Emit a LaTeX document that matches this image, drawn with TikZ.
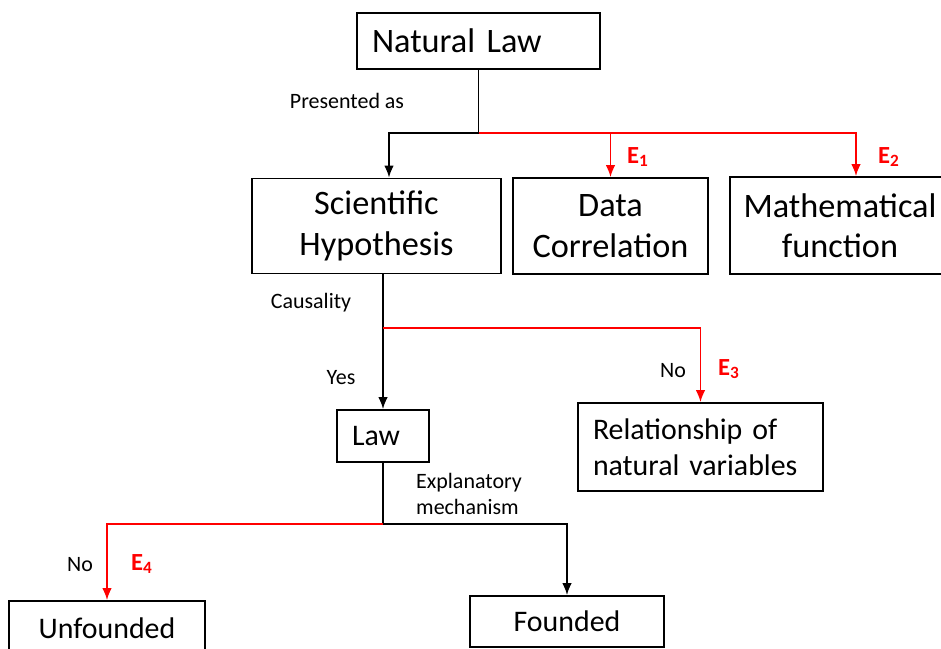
\documentclass[tikz,border=0pt]{standalone}
\usepackage{fontspec}
\setmainfont{Carlito}
\usetikzlibrary{arrows.meta}
\tikzset{>={Latex[length=2.4mm,width=1.9mm]}}
\colorlet{errred}{red}
\newcommand{\Er}[1]{\textbf{E\textsubscript{#1}}}

\begin{document}
\begin{tikzpicture}[x=0.02cm,y=-0.02cm,
  box/.style={draw,line width=1pt,inner sep=0pt,align=center},
  lbox/.style={box,align=left,inner xsep=0.3cm},
  big/.style={font=\fontsize{19.5}{23}\selectfont},
  mid/.style={font=\fontsize{17}{20.5}\selectfont},
  lbl/.style={font=\fontsize{12.5}{14.5}\selectfont},
  elbl/.style={errred,font=\fontsize{14}{16}\selectfont},
  flow/.style={line width=1pt},
  errflow/.style={errred,line width=1pt}]
  \useasboundingbox (0,0) rectangle (941,649);
  % boxes
  \node[lbox,big,text width=4.26cm,minimum height=1.12cm] (nat) at (478.5,41) {Natural Law};
  \node[box,big,minimum width=4.98cm,minimum height=1.9cm] (hyp) at (376.5,226) {Scientific\\Hypothesis};
  \node[box,big,minimum width=3.9cm,minimum height=1.92cm] (corr) at (610.5,226) {Data\\Correlation};
  \node[box,big,minimum width=4.4cm,minimum height=1.94cm] (func) at (840,225.5) {Mathematical\\function};
  \node[lbox,mid,text width=1.24cm,minimum height=1.04cm] (law) at (383,436) {Law};
  \node[lbox,mid,text width=4.3cm,minimum height=1.76cm] (rel) at (700.5,447) {Relationship of\\natural variables};
  \node[box,mid,minimum width=3.92cm,minimum height=1.08cm] (unf) at (107,628) {Unfounded};
  \node[box,mid,minimum width=3.88cm,minimum height=1.02cm] (fnd) at (567,621.5) {Founded};
  % natural law
  \coordinate (s1) at (478.5,133);
  \draw[flow] (nat) -- (s1);
  \draw[flow,->] (s1) -| ([xshift=0.25cm]hyp.north);
  \draw[errflow,->] (s1) -| ([xshift=0.32cm]func.north);
  \draw[errflow,->] (corr.north |- s1) -- (corr.north);
  \node[lbl] (pres) at (347,101) {Presented as};
  \node[elbl] (e1) at (638,157) {\Er{1}};
  \node[elbl] (e2) at (889,157) {\Er{2}};
  % hypothesis
  \coordinate (s2) at (383,328);
  \coordinate (c3) at (rel.north |- s2);
  \draw[flow,->] (law.north |- hyp.south) -- (law.north);
  \draw[errred,line width=0.6pt] (s2) -- (c3);
  \draw[errflow,->] (c3) -- (rel.north);
  \node[lbl] (caus) at (311,303) {Causality};
  \node[lbl] (yes) at (341,378) {Yes};
  \node[lbl] (no1) at (673,371) {No};
  \node[elbl] (e3) at (729,369) {\Er{3}};
  % law
  \coordinate (s3) at (383,524);
  \draw[flow] (law) -- (s3);
  \draw[errflow,->] (s3) -| (unf.north);
  \draw[flow,->] (s3) -| (fnd.north);
  \node[lbl,align=left,anchor=west] (expl) at (410,494) {Explanatory\\mechanism};
  \node[lbl] (no2) at (80,565) {No};
  \node[elbl] (e4) at (142,564) {\Er{4}};
\end{tikzpicture}
\end{document}
